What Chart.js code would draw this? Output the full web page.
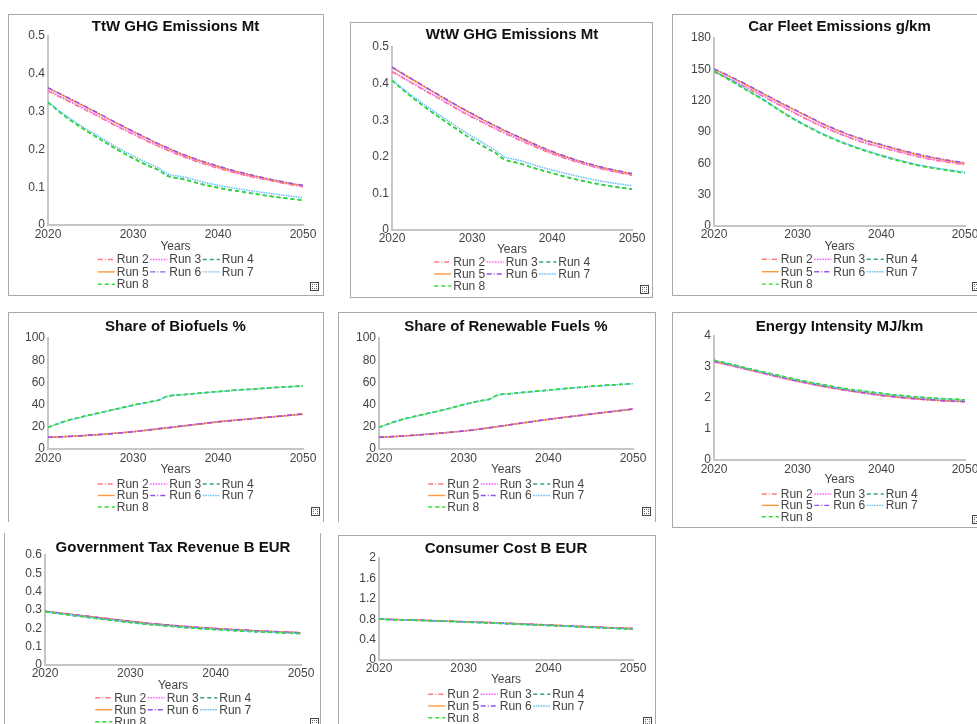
<!DOCTYPE html>
<html>
<head>
<meta charset="utf-8">
<script src="https://cdn.jsdelivr.net/npm/chart.js@4/dist/chart.umd.min.js"></script>
<style>
  html, body { margin: 0; padding: 0; background: #fff; width: 977px; height: 724px; overflow: hidden; position: relative; }
  canvas { position: absolute; }
  .frame { position: absolute; border: 1px solid #a9a9a9; box-sizing: border-box; pointer-events: none; }
  .icon { position: absolute; width: 9px; height: 9px; border: 1px solid #444; box-sizing: border-box; background: #fff; }
  .icon::after { content: ''; position: absolute; left: 1px; top: 1px; width: 3px; height: 3px; border: 1px dotted #666; }
</style>
</head>
<body>
<script>
// Simulation years shared by every panel
const years = [2020, 2022, 2024, 2026, 2028, 2030, 2032, 2033, 2034, 2036, 2038, 2040, 2042, 2044, 2046, 2048, 2050];

const runLabels = ['Run 2', 'Run 3', 'Run 4', 'Run 5', 'Run 6', 'Run 7', 'Run 8'];

// One row per run (Run 2 ... Run 8), one value per year above
const ttwEmissions = [
  [0.354, 0.332, 0.309, 0.286, 0.262, 0.240, 0.218, 0.208, 0.198, 0.180, 0.164, 0.150, 0.138, 0.127, 0.118, 0.109, 0.101],
  [0.356, 0.334, 0.311, 0.288, 0.264, 0.242, 0.220, 0.210, 0.200, 0.182, 0.166, 0.152, 0.139, 0.128, 0.119, 0.110, 0.102],
  [0.325, 0.288, 0.257, 0.229, 0.202, 0.177, 0.155, 0.146, 0.131, 0.121, 0.109, 0.099, 0.091, 0.084, 0.077, 0.071, 0.066],
  [0.362, 0.340, 0.317, 0.294, 0.270, 0.247, 0.225, 0.214, 0.204, 0.185, 0.169, 0.155, 0.142, 0.131, 0.121, 0.112, 0.104],
  [0.363, 0.341, 0.318, 0.295, 0.271, 0.248, 0.226, 0.215, 0.205, 0.186, 0.170, 0.156, 0.143, 0.132, 0.122, 0.113, 0.105],
  [0.325, 0.291, 0.261, 0.234, 0.207, 0.183, 0.161, 0.151, 0.136, 0.127, 0.115, 0.105, 0.097, 0.090, 0.084, 0.078, 0.072],
  [0.324, 0.287, 0.256, 0.228, 0.201, 0.176, 0.154, 0.145, 0.130, 0.120, 0.108, 0.098, 0.090, 0.083, 0.076, 0.070, 0.065]
];

const wtwEmissions = [
  [0.432, 0.407, 0.382, 0.357, 0.332, 0.308, 0.286, 0.275, 0.265, 0.245, 0.226, 0.208, 0.193, 0.180, 0.168, 0.158, 0.149],
  [0.434, 0.409, 0.384, 0.359, 0.334, 0.310, 0.288, 0.277, 0.267, 0.247, 0.228, 0.210, 0.195, 0.181, 0.169, 0.159, 0.150],
  [0.409, 0.372, 0.338, 0.307, 0.277, 0.248, 0.222, 0.210, 0.194, 0.182, 0.168, 0.156, 0.144, 0.134, 0.125, 0.118, 0.112],
  [0.444, 0.418, 0.392, 0.366, 0.341, 0.317, 0.294, 0.283, 0.272, 0.252, 0.232, 0.214, 0.198, 0.184, 0.172, 0.162, 0.153],
  [0.445, 0.419, 0.393, 0.367, 0.342, 0.318, 0.295, 0.284, 0.273, 0.253, 0.233, 0.215, 0.199, 0.185, 0.173, 0.163, 0.154],
  [0.410, 0.375, 0.343, 0.313, 0.284, 0.256, 0.230, 0.217, 0.201, 0.190, 0.176, 0.164, 0.153, 0.143, 0.134, 0.127, 0.121],
  [0.408, 0.371, 0.337, 0.306, 0.276, 0.247, 0.221, 0.209, 0.193, 0.181, 0.167, 0.155, 0.143, 0.133, 0.124, 0.117, 0.111]
];

const fleetEmissions = [
  [147.5, 140.0, 132.0, 123.5, 115.0, 106.5, 98.5, 95.0, 91.5, 85.0, 79.5, 75.0, 71.0, 67.0, 63.5, 61.0, 58.5],
  [148.0, 140.5, 132.5, 124.0, 115.5, 107.0, 99.0, 95.5, 92.0, 85.5, 80.0, 75.5, 71.5, 67.5, 64.0, 61.5, 59.0],
  [148.5, 139.5, 130.0, 120.5, 110.0, 100.5, 92.0, 88.0, 84.5, 78.0, 72.5, 67.5, 63.0, 59.0, 56.0, 53.5, 51.0],
  [150.0, 142.5, 134.5, 126.0, 117.5, 109.5, 101.5, 97.5, 94.0, 87.5, 82.0, 77.5, 73.0, 69.0, 65.5, 62.5, 60.0],
  [150.5, 143.0, 135.0, 126.5, 118.0, 110.0, 102.0, 98.0, 94.5, 88.0, 82.5, 78.0, 73.5, 69.5, 66.0, 63.0, 60.5],
  [148.6, 139.7, 130.2, 120.7, 110.3, 100.8, 92.3, 88.3, 84.8, 78.3, 72.8, 67.8, 63.3, 59.3, 56.3, 53.8, 51.3],
  [148.0, 139.0, 129.5, 120.0, 109.5, 100.0, 91.5, 87.5, 84.0, 77.5, 72.0, 67.0, 62.5, 58.5, 55.5, 53.0, 50.5]
];

const biofuelShare = [
  [10.5, 11.2, 12.0, 13.0, 14.2, 15.6, 17.3, 18.2, 19.1, 20.9, 22.7, 24.5, 25.9, 27.3, 28.7, 30.1, 31.5],
  [10.6, 11.3, 12.1, 13.1, 14.3, 15.8, 17.5, 18.4, 19.3, 21.1, 22.9, 24.6, 26.0, 27.4, 28.8, 30.2, 31.6],
  [19.5, 25.0, 29.0, 32.5, 36.0, 39.5, 42.5, 44.0, 47.5, 49.0, 50.5, 51.8, 53.0, 54.0, 55.0, 56.0, 56.8],
  [10.4, 11.1, 11.9, 12.9, 14.1, 15.5, 17.2, 18.1, 19.0, 20.8, 22.6, 24.4, 25.8, 27.2, 28.6, 30.0, 31.4],
  [10.5, 11.2, 12.0, 13.0, 14.2, 15.6, 17.3, 18.2, 19.1, 20.9, 22.7, 24.5, 25.9, 27.3, 28.7, 30.1, 31.5],
  [19.4, 24.8, 28.8, 32.3, 35.8, 39.3, 42.3, 43.8, 47.3, 48.8, 50.3, 51.6, 52.8, 53.8, 54.8, 55.8, 56.6],
  [19.5, 25.0, 29.0, 32.5, 36.0, 39.5, 42.5, 44.0, 47.5, 49.0, 50.5, 51.8, 53.0, 54.0, 55.0, 56.0, 56.8]
];

const renewableShare = [
  [10.5, 11.3, 12.3, 13.5, 14.8, 16.2, 18.0, 19.1, 20.2, 22.4, 24.6, 26.7, 28.6, 30.5, 32.4, 34.2, 36.0],
  [10.6, 11.4, 12.4, 13.6, 14.9, 16.4, 18.2, 19.3, 20.4, 22.6, 24.8, 26.9, 28.8, 30.7, 32.6, 34.4, 36.2],
  [19.5, 25.0, 29.0, 32.5, 36.0, 40.0, 43.5, 44.8, 48.5, 50.2, 51.7, 53.0, 54.5, 55.8, 57.0, 58.0, 59.0],
  [10.4, 11.2, 12.2, 13.4, 14.7, 16.1, 17.9, 19.0, 20.1, 22.3, 24.5, 26.6, 28.5, 30.4, 32.3, 34.1, 35.9],
  [10.5, 11.3, 12.3, 13.5, 14.8, 16.2, 18.0, 19.1, 20.2, 22.4, 24.6, 26.7, 28.6, 30.5, 32.4, 34.2, 36.0],
  [19.4, 24.8, 28.8, 32.3, 35.8, 39.8, 43.3, 44.6, 48.3, 50.0, 51.5, 52.8, 54.3, 55.6, 56.8, 57.8, 58.8],
  [19.5, 25.0, 29.0, 32.5, 36.0, 40.0, 43.5, 44.8, 48.5, 50.2, 51.7, 53.0, 54.5, 55.8, 57.0, 58.0, 59.0]
];

const energyIntensity = [
  [3.17, 3.05, 2.92, 2.79, 2.66, 2.54, 2.43, 2.38, 2.33, 2.24, 2.16, 2.08, 2.02, 1.97, 1.93, 1.90, 1.88],
  [3.16, 3.04, 2.91, 2.78, 2.65, 2.53, 2.42, 2.37, 2.32, 2.23, 2.15, 2.08, 2.02, 1.97, 1.93, 1.90, 1.88],
  [3.22, 3.09, 2.96, 2.83, 2.71, 2.59, 2.48, 2.43, 2.38, 2.29, 2.22, 2.15, 2.09, 2.04, 2.00, 1.97, 1.94],
  [3.18, 3.06, 2.93, 2.80, 2.67, 2.55, 2.44, 2.39, 2.34, 2.25, 2.17, 2.09, 2.03, 1.98, 1.94, 1.91, 1.89],
  [3.18, 3.06, 2.93, 2.80, 2.67, 2.55, 2.44, 2.39, 2.34, 2.25, 2.17, 2.09, 2.03, 1.98, 1.94, 1.91, 1.89],
  [3.21, 3.08, 2.95, 2.82, 2.70, 2.58, 2.47, 2.42, 2.37, 2.28, 2.21, 2.14, 2.08, 2.03, 1.99, 1.96, 1.93],
  [3.22, 3.09, 2.96, 2.83, 2.71, 2.59, 2.48, 2.43, 2.38, 2.29, 2.22, 2.15, 2.09, 2.04, 2.00, 1.97, 1.94]
];

const taxRevenue = [
  [0.292, 0.281, 0.270, 0.259, 0.248, 0.237, 0.227, 0.223, 0.219, 0.211, 0.204, 0.198, 0.193, 0.188, 0.183, 0.179, 0.175],
  [0.293, 0.282, 0.271, 0.260, 0.249, 0.238, 0.228, 0.224, 0.220, 0.212, 0.205, 0.199, 0.193, 0.188, 0.184, 0.180, 0.176],
  [0.290, 0.278, 0.266, 0.254, 0.243, 0.232, 0.222, 0.218, 0.214, 0.206, 0.199, 0.193, 0.188, 0.183, 0.179, 0.175, 0.171],
  [0.293, 0.282, 0.271, 0.260, 0.249, 0.238, 0.228, 0.224, 0.220, 0.212, 0.205, 0.199, 0.194, 0.189, 0.184, 0.180, 0.176],
  [0.293, 0.282, 0.271, 0.260, 0.249, 0.238, 0.228, 0.224, 0.220, 0.212, 0.205, 0.199, 0.194, 0.189, 0.184, 0.180, 0.176],
  [0.291, 0.279, 0.267, 0.255, 0.244, 0.233, 0.223, 0.219, 0.215, 0.207, 0.200, 0.194, 0.189, 0.184, 0.180, 0.176, 0.172],
  [0.290, 0.278, 0.266, 0.254, 0.243, 0.232, 0.222, 0.218, 0.214, 0.206, 0.199, 0.193, 0.188, 0.183, 0.179, 0.175, 0.171]
];

const consumerCost = [
  [0.800, 0.792, 0.783, 0.773, 0.762, 0.750, 0.738, 0.732, 0.725, 0.712, 0.698, 0.684, 0.670, 0.655, 0.641, 0.627, 0.614],
  [0.801, 0.793, 0.784, 0.774, 0.763, 0.751, 0.739, 0.733, 0.726, 0.713, 0.699, 0.685, 0.671, 0.656, 0.642, 0.628, 0.615],
  [0.799, 0.790, 0.780, 0.769, 0.757, 0.745, 0.732, 0.726, 0.719, 0.705, 0.691, 0.677, 0.662, 0.648, 0.633, 0.619, 0.605],
  [0.801, 0.793, 0.784, 0.774, 0.763, 0.752, 0.740, 0.734, 0.727, 0.714, 0.700, 0.686, 0.672, 0.657, 0.643, 0.629, 0.616],
  [0.801, 0.793, 0.784, 0.774, 0.763, 0.752, 0.740, 0.734, 0.727, 0.714, 0.700, 0.686, 0.672, 0.657, 0.643, 0.629, 0.616],
  [0.799, 0.791, 0.781, 0.770, 0.758, 0.746, 0.733, 0.727, 0.720, 0.706, 0.692, 0.678, 0.663, 0.649, 0.634, 0.620, 0.606],
  [0.799, 0.790, 0.780, 0.769, 0.757, 0.745, 0.732, 0.726, 0.719, 0.705, 0.691, 0.677, 0.662, 0.648, 0.633, 0.619, 0.605]
];

// Line styling per run
const runColors = ['#ff7b7b', '#ff5cff', '#2fa775', '#ff9a3c', '#9650f0', '#62bff8', '#2ee02e'];
const runDashes = [[5, 2, 1, 2], [1.5, 1.2], [4, 3], [], [5, 2, 1, 2], [1.5, 1], [4, 3]];

// Panel placement on the page: box = [x, y, w, h], area = plot rectangle [left, top, right, bottom]
const panels = [
  { title: 'TtW GHG Emissions Mt', values: ttwEmissions, yMax: 0.5, yStep: 0.1,
    box: [8, 14, 316, 282], area: [48, 36, 303, 225], titleY: 27, tickY: 235, yearsY: 247,
    legendY: 259.5, legendGap: 12.4, icon: [310, 282], sides: 'trbl' },
  { title: 'WtW GHG Emissions Mt', values: wtwEmissions, yMax: 0.5, yStep: 0.1,
    box: [350, 22, 303, 276], area: [392, 47, 632, 230], titleY: 35, tickY: 238.5, yearsY: 249.5,
    legendY: 262, legendGap: 12, icon: [640, 285], sides: 'trbl' },
  { title: 'Car Fleet Emissions g/km', values: fleetEmissions, yMax: 180, yStep: 30,
    box: [672, 14, 320, 282], area: [714, 38, 965, 226], titleY: 27.3, tickY: 235, yearsY: 246.7,
    legendY: 259.3, legendGap: 12.4, icon: [972, 282], sides: 'trbl' },
  { title: 'Share of Biofuels %', values: biofuelShare, yMax: 100, yStep: 20,
    box: [8, 312, 316, 210], area: [48, 338, 303, 449], titleY: 326.7, tickY: 458.3, yearsY: 469.3,
    legendY: 484, legendGap: 11.5, icon: [311, 507], sides: 'trl' },
  { title: 'Share of Renewable Fuels %', values: renewableShare, yMax: 100, yStep: 20,
    box: [338, 312, 318, 210], area: [379, 338, 633, 449], titleY: 326.7, tickY: 458.3, yearsY: 469.3,
    legendY: 484, legendGap: 11.5, icon: [642, 507], sides: 'trl' },
  { title: 'Energy Intensity MJ/km', values: energyIntensity, yMax: 4, yStep: 1,
    box: [672, 312, 320, 216], area: [714, 336, 965, 460], titleY: 326.7, tickY: 469.3, yearsY: 480,
    legendY: 494, legendGap: 11.4, icon: [972, 515], sides: 'trbl' },
  { title: 'Government Tax Revenue B EUR', values: taxRevenue, yMax: 0.6, yStep: 0.1,
    box: [4, 533, 317, 200], area: [45, 555, 301, 665], titleY: 548.3, tickY: 673.3, yearsY: 685.7,
    legendY: 697.7, legendGap: 12, icon: [310, 718], sides: 'rbl' },
  { title: 'Consumer Cost B EUR', values: consumerCost, yMax: 2, yStep: 0.4,
    box: [338, 535, 318, 200], area: [379, 558, 633, 660], titleY: 549, tickY: 669, yearsY: 680,
    legendY: 694.3, legendGap: 11.7, icon: [643, 717], sides: 'trbl' }
];

Chart.defaults.font.family = "'Liberation Sans', Arial, Helvetica, sans-serif";
Chart.defaults.font.size = 12;
Chart.defaults.color = '#444';

const FONT = "'Liberation Sans', Arial, Helvetica, sans-serif";
const Y_AXIS_W = 36;
const LINE_H = 14.4;

// Title centred over the plot area and a three-column legend underneath the axis
function decorPlugin(p) {
  return {
    id: 'panelDecor',
    afterDraw(chart) {
      const { ctx, chartArea } = chart;
      const by = p.box[1];
      const cx = (chartArea.left + chartArea.right) / 2;
      ctx.save();
      ctx.font = 'bold 15px ' + FONT;
      ctx.fillStyle = '#111';
      ctx.textAlign = 'center';
      ctx.textBaseline = 'middle';
      ctx.fillText(p.title, cx, p.titleY - by);

      const colW = 52.5, sampleW = 17;
      const x0 = cx - (3 * colW - 2) / 2;
      ctx.font = '12px ' + FONT;
      chart.data.datasets.forEach((ds, i) => {
        const col = i % 3, row = Math.floor(i / 3);
        const x = x0 + col * colW;
        const y = p.legendY - by + row * p.legendGap;
        ctx.strokeStyle = ds.borderColor;
        ctx.lineWidth = 1.4;
        ctx.setLineDash(ds.borderDash || []);
        ctx.beginPath();
        ctx.moveTo(x, y);
        ctx.lineTo(x + sampleW, y);
        ctx.stroke();
        ctx.setLineDash([]);
        ctx.fillStyle = '#444';
        ctx.textAlign = 'left';
        ctx.fillText(ds.label, x + sampleW + 2, y + 0.5);
      });
      ctx.restore();
    }
  };
}

function fmt(v) { return String(+Number(v).toFixed(3)); }

function makePanel(p) {
  const [bx, by, bw, bh] = p.box;
  const [al, at, ar, ab] = p.area;

  const cv = document.createElement('canvas');
  cv.width = bw; cv.height = bh;
  cv.style.left = bx + 'px'; cv.style.top = by + 'px';
  document.body.appendChild(cv);

  const frame = document.createElement('div');
  frame.className = 'frame';
  Object.assign(frame.style, { left: bx + 'px', top: by + 'px', width: bw + 'px', height: bh + 'px' });
  if (!p.sides.includes('t')) frame.style.borderTop = 'none';
  if (!p.sides.includes('b')) frame.style.borderBottom = 'none';
  document.body.appendChild(frame);

  const icon = document.createElement('div');
  icon.className = 'icon';
  icon.style.left = p.icon[0] + 'px'; icon.style.top = p.icon[1] + 'px';
  document.body.appendChild(icon);

  const xAxisH = p.yearsY - ab + LINE_H / 2;
  const padding = {
    left: al - bx - Y_AXIS_W,
    top: at - by,
    right: bx + bw - ar,
    bottom: by + bh - ab - xAxisH
  };

  new Chart(cv, {
    type: 'line',
    data: {
      datasets: p.values.map((vals, i) => ({
        label: runLabels[i],
        data: years.map((yr, j) => ({ x: yr, y: vals[j] })),
        borderColor: runColors[i],
        borderDash: runDashes[i],
        borderWidth: 1.5,
        pointRadius: 0,
        fill: false,
        order: -i,               // later runs are painted over earlier ones
        cubicInterpolationMode: 'monotone'
      }))
    },
    options: {
      responsive: false,
      animation: false,
      events: [],
      layout: { padding, autoPadding: false },
      plugins: { legend: { display: false }, title: { display: false }, tooltip: { enabled: false } },
      scales: {
        x: {
          type: 'linear', min: 2020, max: 2050,
          grid: { display: true, drawOnChartArea: false, drawTicks: false },
          border: { display: true, color: '#c6c6c6', width: 2 },
          ticks: { stepSize: 10, padding: p.tickY - ab - LINE_H / 2, color: '#444', maxRotation: 0,
                   callback: v => String(v) },
          title: { display: true, text: 'Years', color: '#444', padding: 0, font: { size: 12 } },
          afterFit: s => { s.height = xAxisH; s.paddingLeft = 0; s.paddingRight = 0; }
        },
        y: {
          min: 0, max: p.yMax,
          grid: { display: true, drawOnChartArea: false, drawTicks: false },
          border: { display: true, color: '#c6c6c6', width: 2 },
          ticks: { stepSize: p.yStep, padding: 3, color: '#444', callback: v => fmt(v) },
          afterFit: s => { s.width = Y_AXIS_W; s.paddingTop = 0; s.paddingBottom = 0; }
        }
      }
    },
    plugins: [decorPlugin(p)]
  });
}

panels.forEach(makePanel);
</script>
</body>
</html>
